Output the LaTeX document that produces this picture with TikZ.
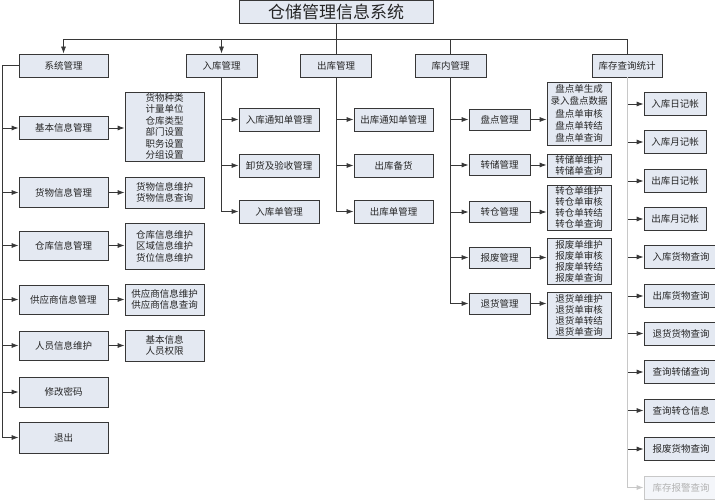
\documentclass[tikz,border=0pt]{standalone}
\usepackage{fontspec}
\setmainfont{Noto Sans CJK SC}
\usetikzlibrary{arrows.meta}
\definecolor{boxfill}{RGB}{228,233,242}
\definecolor{boxline}{RGB}{55,55,55}
\definecolor{fadeline}{RGB}{200,200,200}

\begin{document}
\begin{tikzpicture}[x=1pt, y=-1pt,
	box/.style={draw=boxline, fill=boxfill, line width=0.8pt, inner sep=0pt, align=center, text=black!85, font=\fontsize{9.5}{11.5}\selectfont},
	arr/.style={draw=boxline, line width=0.8pt, -{Latex[length=7pt,width=5pt]}},
	ln/.style={draw=boxline, line width=0.8pt}]
	
	\useasboundingbox (0,0) rectangle (715,500);
	
	\node [box, minimum width=194, minimum height=23, font=\fontsize{17}{17}\selectfont] (title) at (336,11.5) {仓储管理信息系统};
	
	\node [box, minimum width=89, minimum height=23] (xtgl) at (63.5,65.5) {系统管理};
	
	\node [box, minimum width=71, minimum height=23] (rkgl) at (221.5,65.5) {入库管理};
	
	\node [box, minimum width=71, minimum height=23] (ckgl) at (336,65.5) {出库管理};
	
	\node [box, minimum width=71, minimum height=23] (kngl) at (450.5,65.5) {库内管理};
	
	\node [box, minimum width=70, minimum height=23] (kccx) at (627,65.5) {库存查询统计};
	
	
	\node [box, minimum width=89, minimum height=22.5] (jbxx) at (63.5,128) {基本信息管理};
	
	\node [box, minimum width=89, minimum height=30] (hwxx) at (63.5,192.5) {货物信息管理};
	
	\node [box, minimum width=89, minimum height=29] (ckxx) at (63.5,245.5) {仓库信息管理};
	
	\node [box, minimum width=89, minimum height=29] (gysxx) at (63.5,299.5) {供应商信息管理};
	
	\node [box, minimum width=89, minimum height=29] (ryxx) at (63.5,345.5) {人员信息维护};
	
	\node [box, minimum width=89, minimum height=30] (xgmm) at (63.5,392) {修改密码};
	
	\node [box, minimum width=89, minimum height=31] (tc) at (63.5,437.5) {退出};
	
	
	\node [box, minimum width=79, minimum height=69] (jbxxd) at (164.5,126.5) {货物种类\\计量单位\\仓库类型\\部门设置\\职务设置\\分组设置};
	
	\node [box, minimum width=79, minimum height=31] (hwxxd) at (164.5,192.5) {货物信息维护\\货物信息查询};
	
	\node [box, minimum width=79, minimum height=46] (ckxxd) at (164.5,246) {仓库信息维护\\区域信息维护\\货位信息维护};
	
	\node [box, minimum width=79, minimum height=31] (gysxxd) at (164.5,299.5) {供应商信息维护\\供应商信息查询};
	
	\node [box, minimum width=79, minimum height=31] (ryxxd) at (164.5,345.5) {基本信息\\人员权限};
	
	
	\node [box, minimum width=80, minimum height=23] (rktz) at (279,119.5) {入库通知单管理};
	
	\node [box, minimum width=80, minimum height=23] (xhys) at (279,165.5) {卸货及验收管理};
	
	\node [box, minimum width=80, minimum height=23] (rkd) at (279,211.5) {入库单管理};
	
	
	\node [box, minimum width=79, minimum height=23] (cktz) at (393.5,119.5) {出库通知单管理};
	
	\node [box, minimum width=79, minimum height=23] (ckbh) at (393.5,165.5) {出库备货};
	
	\node [box, minimum width=79, minimum height=23] (ckd) at (393.5,211.5) {出库单管理};
	
	
	\node [box, minimum width=61, minimum height=21] (pdgl) at (499.5,119.5) {盘点管理};
	
	\node [box, minimum width=61, minimum height=21] (zcgl) at (499.5,165) {转储管理};
	
	\node [box, minimum width=61, minimum height=21] (zcanggl) at (499.5,212) {转仓管理};
	
	\node [box, minimum width=61, minimum height=21] (bfgl) at (499.5,257.5) {报废管理};
	
	\node [box, minimum width=61, minimum height=21] (thgl) at (499.5,303.5) {退货管理};
	
	
	\node [box, minimum width=64, minimum height=63, font=\fontsize{9.5}{12.2}\selectfont] (pdgld) at (579,113.5) {盘点单生成\\录入盘点数据\\盘点单审核\\盘点单转结\\盘点单查询};
	
	\node [box, minimum width=64, minimum height=23, font=\fontsize{9.5}{11}\selectfont] (zcgld) at (579,165.5) {转储单维护\\转储单查询};
	
	\node [box, minimum width=64, minimum height=45, font=\fontsize{9.5}{11}\selectfont] (zcanggld) at (579,207.5) {转仓单维护\\转仓单审核\\转仓单转结\\转仓单查询};
	
	\node [box, minimum width=64, minimum height=46, font=\fontsize{9.5}{11}\selectfont] (bfgld) at (579,261) {报废单维护\\报废单审核\\报废单转结\\报废单查询};
	
	\node [box, minimum width=64, minimum height=46, font=\fontsize{9.5}{11}\selectfont] (thgld) at (579,315) {退货单维护\\退货单审核\\退货单转结\\退货单查询};
	
	
	\node [box, minimum width=62, minimum height=23] (rkrj) at (675,104) {入库日记帐};
	
	\node [box, minimum width=62, minimum height=23] (rkyj) at (675,142) {入库月记帐};
	
	\node [box, minimum width=62, minimum height=23] (ckrj) at (675,181) {出库日记帐};
	
	\node [box, minimum width=62, minimum height=23] (ckyj) at (675,219) {出库月记帐};
	
	\node [box, minimum width=74, minimum height=23] (rkhw) at (681,257) {入库货物查询};
	
	\node [box, minimum width=74, minimum height=23] (ckhw) at (681,296) {出库货物查询};
	
	\node [box, minimum width=74, minimum height=23] (thhw) at (681,333.5) {退货货物查询};
	
	\node [box, minimum width=74, minimum height=23] (cxzc) at (681,372) {查询转储查询};
	
	\node [box, minimum width=74, minimum height=23] (cxzcang) at (681,410.5) {查询转仓信息};
	
	\node [box, minimum width=74, minimum height=23] (bfhw) at (681,449) {报废货物查询};
	
	\node [box, minimum width=74, minimum height=23, draw=fadeline, fill=boxfill!40, text=black!30] (kcbj) at (681,487.5) {库存报警查询};
	
	
	\draw [arr] (title.south) -- ++(0,16) -| (xtgl.north);
	
	\draw [arr] (title.south) -- ++(0,16) -| (rkgl.north);
	
	\draw [ln] (title.south) -- (ckgl.north);
	
	\draw [ln] (title.south) -- ++(0,16) -| (kngl.north);
	
	\draw [ln] (title.south) -- ++(0,16) -| (kccx.north);
	
	
	\draw [arr] (xtgl.west) -- ++(-16,0) |- (jbxx.west);
	
	\draw [arr] (xtgl.west) -- ++(-16,0) |- (hwxx.west);
	
	\draw [arr] (xtgl.west) -- ++(-16,0) |- (ckxx.west);
	
	\draw [arr] (xtgl.west) -- ++(-16,0) |- (gysxx.west);
	
	\draw [arr] (xtgl.west) -- ++(-16,0) |- (ryxx.west);
	
	\draw [arr] (xtgl.west) -- ++(-16,0) |- (xgmm.west);
	
	\draw [arr] (xtgl.west) -- ++(-16,0) |- (tc.west);
	
	
	\draw [arr] (jbxx.east) -- (jbxx.east -| jbxxd.west);
	
	\draw [arr] (hwxx.east) -- (hwxx.east -| hwxxd.west);
	
	\draw [arr] (ckxx.east) -- (ckxx.east -| ckxxd.west);
	
	\draw [arr] (gysxx.east) -- (gysxx.east -| gysxxd.west);
	
	\draw [arr] (ryxx.east) -- (ryxx.east -| ryxxd.west);
	
	
	\draw [arr] (rkgl.south) |- (rktz.west);
	
	\draw [arr] (rkgl.south) |- (xhys.west);
	
	\draw [arr] (rkgl.south) |- (rkd.west);
	
	
	\draw [arr] (ckgl.south) |- (cktz.west);
	
	\draw [arr] (ckgl.south) |- (ckbh.west);
	
	\draw [arr] (ckgl.south) |- (ckd.west);
	
	
	\draw [arr] (kngl.south) |- (pdgl.west);
	
	\draw [arr] (kngl.south) |- (zcgl.west);
	
	\draw [arr] (kngl.south) |- (zcanggl.west);
	
	\draw [arr] (kngl.south) |- (bfgl.west);
	
	\draw [arr] (kngl.south) |- (thgl.west);
	
	
	\draw [arr] (pdgl.east) -- (pdgl.east -| pdgld.west);
	
	\draw [arr] (zcgl.east) -- (zcgl.east -| zcgld.west);
	
	\draw [arr] (zcanggl.east) -- (zcanggl.east -| zcanggld.west);
	
	\draw [arr] (bfgl.east) -- (bfgl.east -| bfgld.west);
	
	\draw [arr] (thgl.east) -- (thgl.east -| thgld.west);
	
	
	\draw [arr] (kccx.south) |- (rkrj.west);
	
	\draw [arr] (kccx.south) |- (rkyj.west);
	
	\draw [arr] (kccx.south) |- (ckrj.west);
	
	\draw [arr] (kccx.south) |- (ckyj.west);
	
	\draw [arr] (kccx.south) |- (rkhw.west);
	
	\draw [arr] (kccx.south) |- (ckhw.west);
	
	\draw [arr] (kccx.south) |- (thhw.west);
	
	\draw [arr] (kccx.south) |- (cxzc.west);
	
	\draw [arr] (kccx.south) |- (cxzcang.west);
	
	\draw [arr] (kccx.south) |- (bfhw.west);
	
	\draw [arr, draw=fadeline] (kccx.south) |- (kcbj.west);
	
	\end{tikzpicture}
\end{document}
